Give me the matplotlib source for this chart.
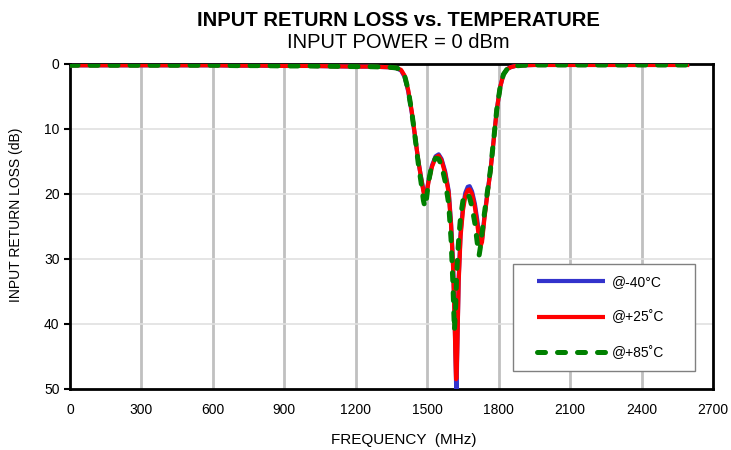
import matplotlib
matplotlib.use("Agg")
import matplotlib.pyplot as plt
from matplotlib.patches import Rectangle

plt.rcParams['font.family'] = ['Liberation Sans', 'DejaVu Sans']

# frequency points (MHz)
freq = [0, 100, 200, 300, 400, 500, 600, 700, 800, 900, 1000, 1100, 1200, 1250,
        1300, 1340, 1370, 1390, 1405, 1420, 1435, 1450, 1462, 1474, 1484, 1490,
        1496, 1505, 1520, 1535, 1548, 1560, 1575, 1590, 1600, 1608, 1614, 1618,
        1621, 1623, 1626, 1632, 1640, 1650, 1660, 1670, 1678, 1688, 1700, 1710,
        1718, 1724, 1730, 1740, 1752, 1765, 1778, 1792, 1806, 1820, 1835, 1850,
        1870, 1900, 1950, 2000, 2100, 2200, 2300, 2400, 2500, 2600]

# input return loss (dB)
rl_m40 = [0.2, 0.2, 0.2, 0.2, 0.2, 0.2, 0.2, 0.25, 0.25, 0.3, 0.3, 0.35, 0.4, 0.4,
          0.45, 0.5, 0.65, 1.0, 2.0, 4.2, 7.5, 11.5, 14.8, 17.4, 19.4, 20.4,
          20.0, 18.0, 15.6, 14.2, 13.9, 14.6, 16.5, 19.5, 24.5, 30.5, 37.5, 44.0,
          49.0, 51.0, 44.0, 33.0, 26.0, 22.0, 19.8, 18.9, 18.8, 19.6, 21.5, 24.0,
          26.3, 27.3, 27.0, 23.5, 20.0, 16.5, 12.0, 7.0, 3.6, 1.6, 0.8, 0.5,
          0.3, 0.2, 0.15, 0.15, 0.15, 0.15, 0.15, 0.15, 0.15, 0.15]
rl_p25 = [0.2, 0.2, 0.2, 0.2, 0.2, 0.2, 0.2, 0.25, 0.25, 0.3, 0.3, 0.35, 0.4, 0.4,
          0.45, 0.5, 0.6, 0.9, 1.8, 4.0, 7.3, 11.4, 14.8, 17.5, 19.6, 20.7,
          20.3, 18.2, 15.8, 14.4, 14.1, 14.8, 16.8, 19.8, 24.8, 30.8, 38.0, 44.5,
          48.5, 48.3, 44.0, 33.5, 26.5, 22.5, 20.3, 19.4, 19.3, 20.0, 22.0, 24.6,
          27.0, 28.0, 27.4, 23.8, 20.2, 16.6, 12.1, 7.1, 3.6, 1.6, 0.8, 0.5,
          0.3, 0.2, 0.15, 0.15, 0.15, 0.15, 0.15, 0.15, 0.15, 0.15]
rl_p85 = [0.2, 0.2, 0.2, 0.2, 0.2, 0.2, 0.2, 0.25, 0.25, 0.3, 0.3, 0.35, 0.4, 0.4,
          0.45, 0.5, 0.6, 0.9, 1.8, 4.0, 7.4, 11.6, 15.2, 18.2, 21.0, 22.0,
          21.0, 18.2, 15.4, 14.5, 14.6, 15.6, 18.0, 21.5, 27.0, 34.0, 41.0, 38.5,
          35.5, 33.0, 30.5, 27.0, 23.5, 21.0, 20.0, 20.0, 20.6, 22.0, 24.5, 27.5,
          29.4, 28.0, 26.0, 23.0, 19.8, 16.4, 12.0, 7.0, 3.6, 1.6, 0.8, 0.5,
          0.3, 0.2, 0.15, 0.15, 0.15, 0.15, 0.15, 0.15, 0.15, 0.15]

labels = ['@-40°C', '@+25˚C', '@+85˚C']

fig = plt.figure(figsize=(7.31, 4.5), dpi=100)
ax = fig.add_axes([0.0958, 0.1356, 0.8796, 0.7222])

ax.plot(freq, rl_m40, color='#3333cc', lw=3.0, label=labels[0], solid_capstyle='butt', zorder=3)
ax.plot(freq, rl_p25, color='#ff0000', lw=3.0, label=labels[1], solid_capstyle='butt', zorder=4)
ax.plot(freq, rl_p85, color='#008000', lw=3.6, label=labels[2], dashes=(1.6, 2.4),
        dash_capstyle='round', zorder=5)

ax.set_xlim(0, 2700)
ax.set_ylim(50, 0)
ax.set_xticks(range(0, 2701, 300))
ax.set_yticks(range(0, 51, 10))

# vertical grid darker than horizontal grid
for x in range(300, 2700, 300):
    ax.axvline(x, color='#c0c0c0', lw=2.0, zorder=1)
for y in range(10, 50, 10):
    ax.axhline(y, color='#e0e0e0', lw=1.2, zorder=1)

for s in ax.spines.values():
    s.set_linewidth(2.0)
    s.set_color('black')
ax.tick_params(axis='y', direction='out', length=4, width=1.5, labelsize=10)
ax.tick_params(axis='x', length=0, labelsize=10, pad=10)

fig.text(404 / 731, 1 - 440 / 450, 'FREQUENCY  (MHz)', ha='center', va='center', fontsize=11)
fig.text(16 / 731, 1 - 215 / 450, 'INPUT RETURN LOSS (dB)', ha='center', va='center',
         rotation=90, fontsize=10)

fig.text(398 / 731, 1 - 21 / 450, 'INPUT RETURN LOSS vs. TEMPERATURE', ha='center', va='center',
         fontsize=14.5, fontweight='bold')
fig.text(398 / 731, 1 - 42 / 450, 'INPUT POWER = 0 dBm', ha='center', va='center', fontsize=14.5)

# legend box drawn separately so padding can differ per side
ax.add_patch(Rectangle((0.689, 0.0554), 0.283, 0.329, transform=ax.transAxes,
                       facecolor='white', edgecolor='#808080', lw=1.0, zorder=6))
leg = ax.legend(loc='upper left', bbox_to_anchor=(0.7263, 0.3508), fontsize=10,
                handlelength=4.9, handletextpad=0.5, labelspacing=1.55, borderpad=0,
                borderaxespad=0, frameon=False)
leg.set_zorder(7)

fig.savefig('out.png', dpi=100)
